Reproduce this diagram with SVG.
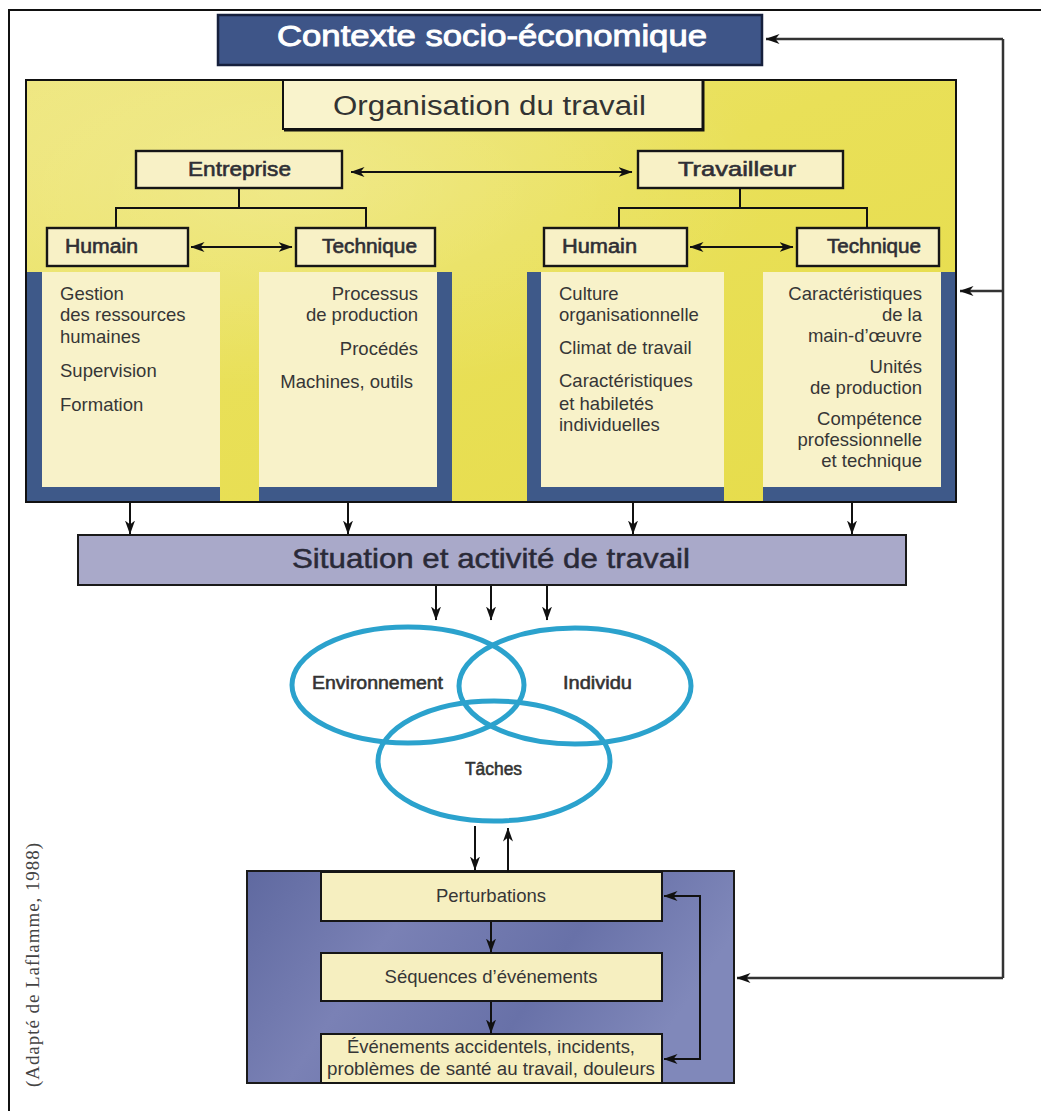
<svg xmlns="http://www.w3.org/2000/svg" width="1041" height="1111" viewBox="0 0 1041 1111">
<defs>
  <linearGradient id="gYellow" x1="0" y1="0" x2="1" y2="1">
    <stop offset="0" stop-color="#eee67c"/>
    <stop offset="0.45" stop-color="#e9e058"/>
    <stop offset="1" stop-color="#e6dc4a"/>
  </linearGradient>
  <radialGradient id="gGlow" cx="0.3" cy="0.25" r="0.5">
    <stop offset="0" stop-color="#ffffff" stop-opacity="0.22"/>
    <stop offset="1" stop-color="#ffffff" stop-opacity="0"/>
  </radialGradient>
  <linearGradient id="gBottom" x1="0" y1="0" x2="1" y2="0.3">
    <stop offset="0" stop-color="#5f69a0"/>
    <stop offset="0.35" stop-color="#7a81b5"/>
    <stop offset="0.7" stop-color="#6871a8"/>
    <stop offset="1" stop-color="#8088ba"/>
  </linearGradient>
  <marker id="ah" viewBox="0 0 14 11" refX="13.5" refY="5.5" markerWidth="14" markerHeight="11" markerUnits="userSpaceOnUse" orient="auto-start-reverse">
    <path d="M0,0.5 L14,5.5 L0,10.5 L4,5.5 z" fill="#111"/>
  </marker>
</defs>
<style>
  .t{font-family:"Liberation Sans",Arial,sans-serif;fill:#363636}
  .col{font-size:18.5px}
  .hb{font-size:20px;fill:#2f2f35;stroke:#2f2f35;stroke-width:0.6}
  .hd{fill:#f8f1c6;stroke:#161616;stroke-width:2.4}
  .blue{fill:#3e5989}
  .cream{fill:#f8f2c9}
  .ln{fill:none;stroke:#111;stroke-width:2}
  .arr{fill:none;stroke:#111;stroke-width:2;marker-end:url(#ah)}
  .arr2{fill:none;stroke:#111;stroke-width:2;marker-start:url(#ah);marker-end:url(#ah)}
  .fb{fill:none;stroke:#333;stroke-width:2.5;marker-end:url(#ah)}
  .ell{fill:none;stroke:#2ba2cd;stroke-width:5}
  .bt{fill:#f6efc0;stroke:#161616;stroke-width:2}
  .et{font-size:17.5px;fill:#333;stroke:#333;stroke-width:0.55}
</style>

<!-- outer frame -->
<path d="M9,1111 V10 H1041" fill="none" stroke="#111" stroke-width="2"/>

<g id="contexte">
  <rect x="218" y="15" width="544" height="50" fill="#3e5588" stroke="#16203d" stroke-width="2.5"/>
  <text class="t" x="277" y="46" font-size="29" style="fill:#ffffff" stroke="#ffffff" stroke-width="0.9" textLength="430" lengthAdjust="spacingAndGlyphs">Contexte socio-économique</text>
</g>

<g id="organisation">
  <rect x="26" y="80" width="930" height="422" fill="url(#gYellow)"/>
  <rect x="26" y="80" width="930" height="422" fill="url(#gGlow)"/>
  <g id="col1">
    <rect class="blue" x="26" y="272" width="194" height="229"/>
    <rect class="cream" x="42" y="272" width="178" height="215"/>
    <text class="t col" x="60" y="300">Gestion</text>
    <text class="t col" x="60" y="321">des ressources</text>
    <text class="t col" x="60" y="343">humaines</text>
    <text class="t col" x="60" y="377">Supervision</text>
    <text class="t col" x="60" y="411">Formation</text>
  </g>
  <g id="col2">
    <rect class="blue" x="259" y="272" width="193" height="229"/>
    <rect class="cream" x="259" y="272" width="178" height="215"/>
    <g text-anchor="end">
      <text class="t col" x="418" y="300">Processus</text>
      <text class="t col" x="418" y="321">de production</text>
      <text class="t col" x="418" y="355">Procédés</text>
      <text class="t col" x="413" y="388">Machines, outils</text>
    </g>
  </g>
  <g id="col3">
    <rect class="blue" x="527" y="272" width="197" height="229"/>
    <rect class="cream" x="541" y="272" width="183" height="215"/>
    <text class="t col" x="559" y="300">Culture</text>
    <text class="t col" x="559" y="321">organisationnelle</text>
    <text class="t col" x="559" y="354">Climat de travail</text>
    <text class="t col" x="559" y="387">Caractéristiques</text>
    <text class="t col" x="559" y="410">et habiletés</text>
    <text class="t col" x="559" y="431">individuelles</text>
  </g>
  <g id="col4">
    <rect class="blue" x="763" y="272" width="193" height="229"/>
    <rect class="cream" x="763" y="272" width="178" height="215"/>
    <g text-anchor="end">
      <text class="t col" x="922" y="300">Caractéristiques</text>
      <text class="t col" x="922" y="321">de la</text>
      <text class="t col" x="922" y="342">main-d’œuvre</text>
      <text class="t col" x="922" y="373">Unités</text>
      <text class="t col" x="922" y="394">de production</text>
      <text class="t col" x="922" y="425">Compétence</text>
      <text class="t col" x="922" y="446">professionnelle</text>
      <text class="t col" x="922" y="467">et technique</text>
    </g>
  </g>
  <rect x="26" y="80" width="930" height="422" fill="none" stroke="#111" stroke-width="2"/>
  <g id="titre-org">
    <rect x="283" y="80" width="420" height="49" fill="#f9f3cc" stroke="#111" stroke-width="2"/>
    <path d="M703,81 V130 H284" fill="none" stroke="#111" stroke-width="3"/>
    <text class="t" x="333" y="115" font-size="27" style="fill:#333" textLength="313" lengthAdjust="spacingAndGlyphs">Organisation du travail</text>
  </g>
</g>

<g id="entreprise">
  <rect class="hd" x="136" y="151" width="206" height="37"/>
  <text class="t hb" x="188" y="176" style="font-size:21px" textLength="103" lengthAdjust="spacingAndGlyphs">Entreprise</text>
</g>
<g id="travailleur">
  <rect class="hd" x="638" y="151" width="205" height="37"/>
  <text class="t hb" x="678" y="176" style="font-size:21px" textLength="118" lengthAdjust="spacingAndGlyphs">Travailleur</text>
</g>
<g id="humain-e">
  <rect class="hd" x="47" y="228" width="141" height="38"/>
  <text class="t hb" x="65" y="253" textLength="73" lengthAdjust="spacingAndGlyphs">Humain</text>
</g>
<g id="technique-e">
  <rect class="hd" x="296" y="228" width="139" height="38"/>
  <text class="t hb" x="322" y="253" textLength="95" lengthAdjust="spacingAndGlyphs">Technique</text>
</g>
<g id="humain-t">
  <rect class="hd" x="544" y="228" width="143" height="38"/>
  <text class="t hb" x="562" y="253" textLength="75" lengthAdjust="spacingAndGlyphs">Humain</text>
</g>
<g id="technique-t">
  <rect class="hd" x="797" y="228" width="142" height="38"/>
  <text class="t hb" x="827" y="253" textLength="94" lengthAdjust="spacingAndGlyphs">Technique</text>
</g>

<g id="situation">
  <rect x="78" y="535" width="828" height="50" fill="#a9a9c9" stroke="#1a1a1a" stroke-width="2"/>
  <text class="t" x="292" y="568" font-size="28" style="fill:#2a2a38" stroke="#2a2a38" stroke-width="0.5" textLength="398" lengthAdjust="spacingAndGlyphs">Situation et activité de travail</text>
</g>

<g id="venn">
  <g id="environnement">
    <ellipse class="ell" cx="408" cy="685" rx="116" ry="58"/>
    <text class="t et" x="312" y="689" textLength="131" lengthAdjust="spacingAndGlyphs">Environnement</text>
  </g>
  <g id="individu">
    <ellipse class="ell" cx="575" cy="686" rx="116" ry="58"/>
    <text class="t et" x="563" y="689" textLength="69" lengthAdjust="spacingAndGlyphs">Individu</text>
  </g>
  <g id="taches">
    <ellipse class="ell" cx="494" cy="761" rx="116" ry="60"/>
    <text class="t et" x="465" y="775" textLength="57" lengthAdjust="spacingAndGlyphs">Tâches</text>
  </g>
</g>

<g id="consequences">
  <rect x="247" y="871" width="487" height="212" fill="url(#gBottom)" stroke="#1a1a1a" stroke-width="2"/>
  <g id="perturbations">
    <rect class="bt" x="321" y="872" width="341" height="49"/>
    <text class="t" x="491" y="902" font-size="18.5" text-anchor="middle">Perturbations</text>
  </g>
  <g id="sequences">
    <rect class="bt" x="321" y="953" width="341" height="48"/>
    <text class="t" x="491" y="983" font-size="18.5" text-anchor="middle">Séquences d’événements</text>
  </g>
  <g id="evenements">
    <rect class="bt" x="321" y="1034" width="341" height="49"/>
    <text class="t" x="491" y="1053" font-size="18.5" text-anchor="middle" textLength="288" lengthAdjust="spacingAndGlyphs">Événements accidentels, incidents,</text>
    <text class="t" x="491" y="1075" font-size="18.5" text-anchor="middle" textLength="328" lengthAdjust="spacingAndGlyphs">problèmes de santé au travail, douleurs</text>
  </g>
</g>

<g id="source">
  <text transform="translate(39,965) rotate(-90)" text-anchor="middle" font-family="'Liberation Serif','Times New Roman',serif" font-size="19" fill="#444" textLength="244" lengthAdjust="spacing">(Adapté de Laflamme, 1988)</text>
</g>

<g id="connectors">
  <path class="ln" d="M239,188 V208 M116,228 V208 H366 V228"/>
  <path class="ln" d="M740,188 V208 M619,228 V208 H867 V228"/>
  <path class="arr2" d="M351,172 H632"/>
  <path class="arr2" d="M191,247 H292"/>
  <path class="arr2" d="M690,247 H793"/>
  <path class="arr" d="M130,502 V534"/>
  <path class="arr" d="M348,502 V534"/>
  <path class="arr" d="M633,502 V534"/>
  <path class="arr" d="M852,502 V534"/>
  <path class="arr" d="M436,586 V620"/>
  <path class="arr" d="M491,586 V620"/>
  <path class="arr" d="M547,586 V620"/>
  <path class="arr" d="M475,826 V870"/>
  <path class="arr" d="M508,872 V828"/>
  <path class="arr" d="M491,922 V952"/>
  <path class="arr" d="M491,1002 V1033"/>
  <path class="arr2" d="M664,896 H700 V1059 H664"/>
  <path fill="none" stroke="#333" stroke-width="2.5" d="M1003,39 V978"/>
  <path class="fb" d="M1003,39 H766"/>
  <path class="fb" d="M1003,291 H960"/>
  <path class="fb" d="M1003,978 H737"/>
</g>
</svg>
